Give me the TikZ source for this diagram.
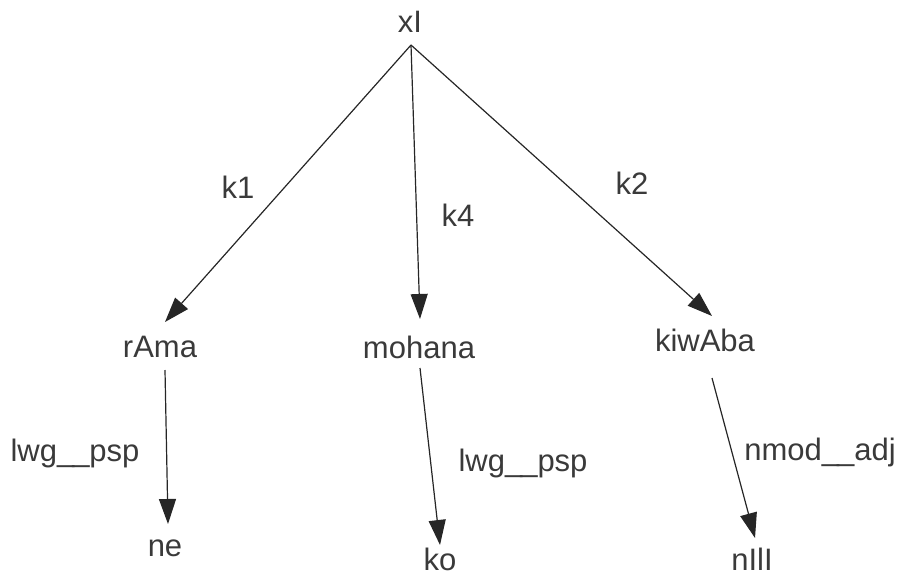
\documentclass[tikz,border=0pt]{standalone}
\usepackage{fontspec}
\setmainfont{Liberation Sans}
\usetikzlibrary{arrows.meta}
\definecolor{ink}{HTML}{3A3A3A}
\begin{document}
\begin{tikzpicture}[x=1pt,y=-1pt,
  word/.style={font=\fontsize{31}{34}\selectfont, text=ink, inner sep=0pt, anchor=center},
  rel/.style={font=\fontsize{31}{34}\selectfont, text=ink, inner sep=0pt, anchor=center},
  dep/.style={draw=black!85, line width=1.2pt, -{Triangle[length=25pt,width=17pt]}}]
  \useasboundingbox (0,0) rectangle (915,576);
  % words
  \node[word] (xI) at (410,22) {xI};
  \node[word] (rama) at (160,347) {rAma};
  \node[word] (mohana) at (419,347) {mohana};
  \node[word] (kiwaba) at (705,340) {kiwAba};
  \node[word] (ne) at (165,548) {ne};
  \node[word] (ko) at (440,559) {ko};
  \node[word] (nili) at (752,559) {nIlI};
  % arrow ends
  \coordinate (xI-out) at (411,45);
  \coordinate (rama-in) at (165,322);
  \coordinate (mohana-in) at (420,319);
  \coordinate (kiwaba-in) at (712,316);
  \coordinate (rama-out) at (165,370);
  \coordinate (ne-in) at (168,524);
  \coordinate (mohana-out) at (420,368);
  \coordinate (ko-in) at (440,545);
  \coordinate (kiwaba-out) at (712,378);
  \coordinate (nili-in) at (755,538);
  % dependencies
  \draw[dep] (xI-out) -- (rama-in);
  \draw[dep] (xI-out) -- (mohana-in);
  \draw[dep] (xI-out) -- (kiwaba-in);
  \draw[dep] (rama-out) -- (ne-in);
  \draw[dep] (mohana-out) -- (ko-in);
  \draw[dep] (kiwaba-out) -- (nili-in);
  % relation labels
  \node[rel] (k1) at (238,187) {k1};
  \node[rel] (k4) at (458,215) {k4};
  \node[rel] (k2) at (632,183) {k2};
  \node[rel] (l1) at (75,453) {lwg\_\kern-2pt\_psp};
  \node[rel] (l2) at (523,463) {lwg\_\kern-2pt\_psp};
  \node[rel] (l3) at (820,452) {nmod\_\kern-2pt\_adj};
\end{tikzpicture}
\end{document}
